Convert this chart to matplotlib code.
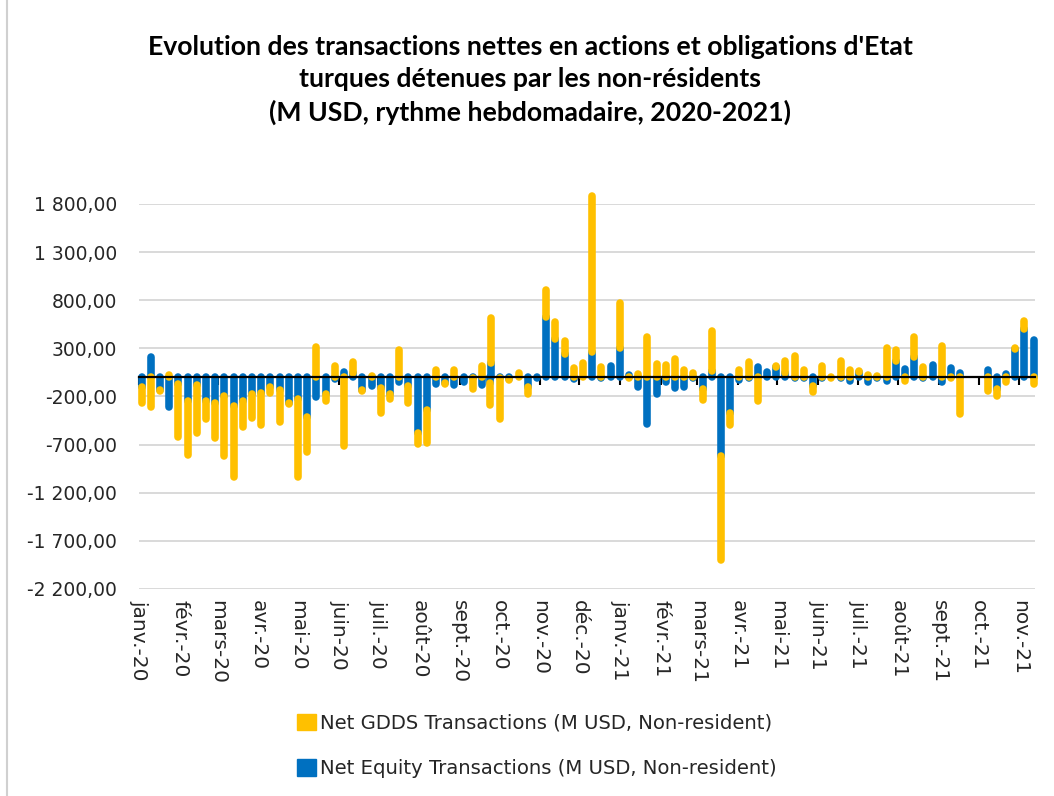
import matplotlib
matplotlib.use("Agg")
import matplotlib.pyplot as plt
import matplotlib.dates as mdates
from matplotlib.patches import Patch
from matplotlib.lines import Line2D
import numpy as np
import pandas as pd

# ---------------- data ----------------
title = ("Evolution des transactions nettes en actions et obligations d'Etat\n"
         "turques détenues par les non-résidents\n"
         "(M USD, rythme hebdomadaire, 2020-2021)")

label_gdds = "Net GDDS Transactions (M USD, Non-resident)"
label_equity = "Net Equity Transactions (M USD, Non-resident)"

# weekly observation dates (Fridays), Jan 2020 - Nov 2021
weeks = pd.date_range("2020-01-03", periods=98, freq="7D")

equity = [-100, 209, -135, -306, -74, -251, -85, -247, -264, -195,
          -302, -251, -171, -168, -102, -137, -263, -230, -413, -209,
          -178, -15, 54, 40, -131, -88, -109, -178, -54, -92,
          -575, -340, -74, -59, -76, -50, -5, -85, 147, -5,
          -20, 3, -105, -10, 624, 399, 244, -15, 5, 258,
          -5, 115, 300, 25, -105, -482, -175, -54, -110, -105,
          -10, -119, 60, -817, -368, -25, -10, 105, 50, 107,
          40, -10, -10, -92, -10, 3, -5, -36, 59, -54,
          -5, -36, 171, 81, 210, -5, 124, -47, 92, 40,
          np.nan, np.nan, 71, -119, 29, 295, 499, 383]

gdds = [-165, -313, -8, 25, -543, -556, -490, -187, -370, -622,
        -730, -262, -256, -328, -66, -331, -10, -809, -366, 316,
        -66, 116, -710, 117, -10, 10, -263, -48, 282, -176,
        -118, -343, 72, -10, 74, 5, -119, 112, 467, -430,
        -5, 40, -66, 5, 280, 170, 134, 92, 138, 1630,
        109, 5, 470, -10, 32, 414, 136, 124, 188, 74,
        42, -114, 422, -1086, -123, 72, 161, -244, 5, 5,
        128, 219, 74, -65, 116, -5, 168, 74, 5, 20,
        10, 299, 107, -36, 206, 105, 5, 323, -10, -380,
        np.nan, np.nan, -147, -73, -54, 12, 83, -68]

# an additional mid-week observation in late September 2020
extra_dates = ["2020-09-24"]
extra_equity = [-60]
extra_gdds = [-230]

yticks = [-2200, -1700, -1200, -700, -200, 300, 800, 1300, 1800]
month_starts = pd.date_range("2020-01-01", "2021-11-01", freq="MS")
month_labels = ["janv.-20", "févr.-20", "mars-20", "avr.-20", "mai-20", "juin-20",
                "juil.-20", "août-20", "sept.-20", "oct.-20", "nov.-20", "déc.-20",
                "janv.-21", "févr.-21", "mars-21", "avr.-21", "mai-21", "juin-21",
                "juil.-21", "août-21", "sept.-21", "oct.-21", "nov.-21"]

# ---------------- build table ----------------
df = pd.DataFrame({"date": list(weeks) + list(pd.to_datetime(extra_dates)),
                   "equity": list(equity) + extra_equity,
                   "gdds": list(gdds) + extra_gdds})
df = df.dropna().sort_values("date").reset_index(drop=True)
x = mdates.date2num(df["date"])
eq = df["equity"].to_numpy(float)
gd = df["gdds"].to_numpy(float)
# Excel-style stacking: positives and negatives stack separately
gd_bottom = np.where(np.sign(gd) == np.sign(eq), eq, 0.0)

# ---------------- style ----------------
YELLOW = "#FFC000"
BLUE = "#0070C0"
W, H, DPI = 1054, 796, 100
fig = plt.figure(figsize=(W / DPI, H / DPI), dpi=DPI)
ax = fig.add_axes([139 / W, 1 - 589 / H, (1035 - 139) / W, (589 - 204) / H])

lw_pt = 7.6 * 72 / DPI
ax.vlines(x, 0, eq, colors=BLUE, linewidths=lw_pt, capstyle="round",
          clip_on=False, zorder=3)
ax.vlines(x, gd_bottom, gd_bottom + gd, colors=YELLOW, linewidths=lw_pt,
          capstyle="round", clip_on=False, zorder=3.1)

ax.set_ylim(-2200, 1800)
ax.set_xlim(mdates.date2num(pd.Timestamp("2020-01-01")),
            mdates.date2num(pd.Timestamp("2021-11-13")))

def fr(v):
    s = f"{abs(v):,.2f}".replace(",", " ").replace(".", ",")
    return ("-" if v < 0 else "") + s

ax.set_yticks(yticks)
ax.set_yticklabels([fr(v) for v in yticks], fontsize=13.5, family="DejaVu Sans",
                   color="#262626")
ax.tick_params(axis="y", length=0, pad=16)
ax.grid(axis="y", color="#d9d9d9", linewidth=1.4, zorder=0)
ax.set_axisbelow(True)
for s in ["left", "right", "top"]:
    ax.spines[s].set_visible(False)

# zero axis with month tick marks
xt = mdates.date2num(month_starts)
ax.spines["bottom"].set_position(("data", 0))
ax.spines["bottom"].set_color("black")
ax.spines["bottom"].set_linewidth(1.6)
ax.spines["bottom"].set_zorder(4)
ax.set_xticks(xt)
ax.tick_params(axis="x", direction="out", length=5.5, width=1.5, color="black",
               labelbottom=False)

# month labels at bottom of plot area
sec = ax.secondary_xaxis("bottom")
sec.set_xticks(xt)
sec.set_xticklabels(month_labels, rotation=270, fontsize=14.5, family="DejaVu Sans",
                    color="#262626", va="top", ha="center")
sec.tick_params(axis="x", length=0, pad=8)
sec.spines["bottom"].set_visible(False)

# title
fig.text(0.503, 1 - 35 / H, title, ha="center", va="top", fontsize=19.2,
         fontweight="bold", family="Lato", linespacing=1.41, color="black")

# legend
handles = [Patch(facecolor=YELLOW, edgecolor=YELLOW),
           Patch(facecolor=BLUE, edgecolor=BLUE)]
fig.legend(handles, [label_gdds, label_equity], loc="center",
           bbox_to_anchor=(537 / W, 1 - 746 / H), ncol=1, frameon=False,
           prop={"family": "DejaVu Sans", "size": 14.1}, labelspacing=1.36,
           handlelength=0.95, handleheight=0.95, handletextpad=0.2,
           labelcolor="#262626")

# chart-area border on the left
fig.add_artist(Line2D([7 / W, 7 / W], [0, 1], color="#d0d0d0", linewidth=1.5))

fig.savefig("out.png", dpi=DPI)
